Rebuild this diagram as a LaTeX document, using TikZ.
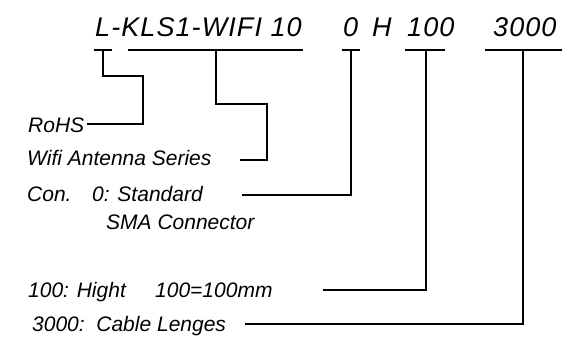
\documentclass[tikz,border=0pt]{standalone}
\usepackage{fontspec}
\setmainfont{Liberation Sans}
\begin{document}
\begin{tikzpicture}[x=1pt,y=-1pt,
        code/.style={anchor=base west,inner sep=0pt,font=\fontsize{27}{27}\selectfont\itshape\addfontfeatures{LetterSpace=4}},
        note/.style={anchor=base west,inner sep=0pt,font=\fontsize{21}{21}\selectfont\itshape},
        lead/.style={line width=1.1pt}]
    \useasboundingbox (0,0) rectangle (585,342);
    % part number
    \node[code] (series) at (95,37) {L-KLS1-WIFI 10};
    \node[code] (con) at (343,37) {0};
    \node[code] (h) at (372,37) {H};
    \node[code] (hight) at (407,37) {100};
    \node[code] (len) at (493,37) {3000};
    % underlines
    \draw[lead] (94,50) -- (112,50);
    \draw[lead] (128,50) -- (303,50);
    \draw[lead] (342,50) -- (360,50);
    \draw[lead] (405,50) -- (445,50);
    \draw[lead] (485,50) -- (562,50);
    \coordinate (uRoHS) at (103,50);
    \coordinate (uWifi) at (216,50);
    \coordinate (uCon) at (351,50);
    \coordinate (uHight) at (426,50);
    \coordinate (uLen) at (523,50);
    % descriptions
    \node[note] (rohs) at (28,132) {RoHS};
    \node[note] (wifi) at (27,165) {Wifi Antenna Series};
    \node[note] (conlbl) at (27,201) {Con.};
    \node[note] (std) at (92,201) {0: Standard};
    \node[note] (sma) at (106,229) {SMA Connector};
    \node[note] (hlbl) at (28,297) {100: Hight};
    \node[note] (hmm) at (155,297) {100=100mm};
    \node[note] (cable) at (32,331) {3000:\ \ Cable Lenges};
    \coordinate (eRoHS) at (87,124);
    \coordinate (eWifi) at (240,160);
    \coordinate (eCon) at (242,195);
    \coordinate (eHight) at (323,290);
    \coordinate (eLen) at (245,324);
    % leaders
    \draw[lead] (uRoHS) -- ++(0,26) -| (143,124) -- (eRoHS);
    \draw[lead] (uWifi) -- ++(0,54) -| (267,160) -- (eWifi);
    \draw[lead] (uCon) |- (eCon);
    \draw[lead] (uHight) |- (eHight);
    \draw[lead] (uLen) |- (eLen);
\end{tikzpicture}
\end{document}
